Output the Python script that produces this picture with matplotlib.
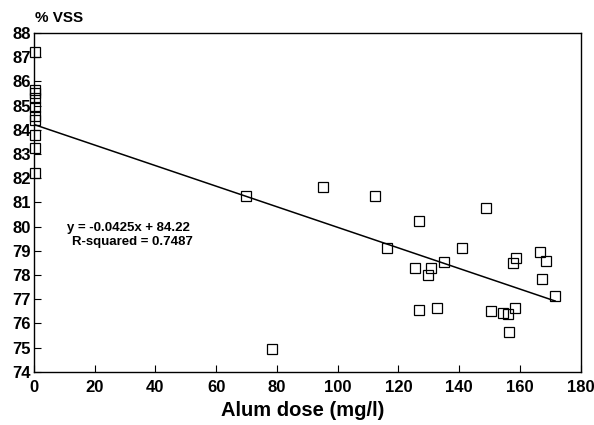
import numpy as np
import matplotlib.pyplot as plt
from matplotlib import rcParams
rcParams['font.family'] = ['Liberation Sans', 'DejaVu Sans']

# alum dose (mg/l) and % VSS
dose = [0.5, 0.5, 0.5, 0.5, 0.5, 0.5, 0.5, 0.5, 0.5, 0.5,
        69.8, 78.5, 95.1, 112.3, 148.8, 126.9, 116.1, 140.9, 135.0,
        166.7, 158.7, 157.8, 168.5, 125.4, 130.7, 129.6, 167.4, 171.6,
        126.8, 132.7, 150.6, 154.3, 156.0, 158.4, 156.3]
vss = [87.2, 85.65, 85.5, 85.3, 84.95, 84.55, 84.4, 83.8, 83.25, 82.2,
       81.27, 74.95, 81.65, 81.25, 80.75, 80.25, 79.1, 79.1, 78.55,
       78.95, 78.7, 78.5, 78.6, 78.3, 78.3, 78.0, 77.85, 77.15,
       76.55, 76.65, 76.5, 76.42, 76.4, 76.65, 75.65]

slope = -0.0425
intercept = 84.22
fit_range = [0, 171.6]

fig = plt.figure(figsize=(5.94, 4.25), dpi=100)
ax = fig.add_axes([0.057, 0.125, 0.9206, 0.7975])

xf = np.array(fit_range)
ax.plot(xf, slope * xf + intercept, color='black', lw=1.1, zorder=3)
ax.plot(dose, vss, linestyle='none', marker='s', markersize=7.5, clip_on=False,
        markerfacecolor='none', markeredgecolor='black', markeredgewidth=0.9, zorder=4)

ax.set_xlim(0, 180)
ax.set_ylim(74, 88)
ax.set_xticks(range(0, 181, 20))
ax.set_yticks(range(74, 89))
ax.tick_params(direction='in', length=5, width=0.8, labelsize=12, pad=6)
for lab in ax.get_xticklabels() + ax.get_yticklabels():
    lab.set_fontweight('bold')
ax.tick_params(axis='y', pad=2)
for s in ax.spines.values():
    s.set_linewidth(1.0)

ax.text(10.9, 79.95, 'y = -0.0425x + 84.22', fontsize=9.5, fontweight='bold', va='center')
ax.text(12.5, 79.37, 'R-squared = 0.7487', fontsize=9.5, fontweight='bold', va='center')

fig.text(0.059, 0.957, '% VSS', fontsize=11, fontweight='bold', va='center')
fig.text(0.51, 0.035, 'Alum dose (mg/l)', fontsize=14.5, fontweight='bold', ha='center', va='center')

fig.savefig('out.png', dpi=100)
